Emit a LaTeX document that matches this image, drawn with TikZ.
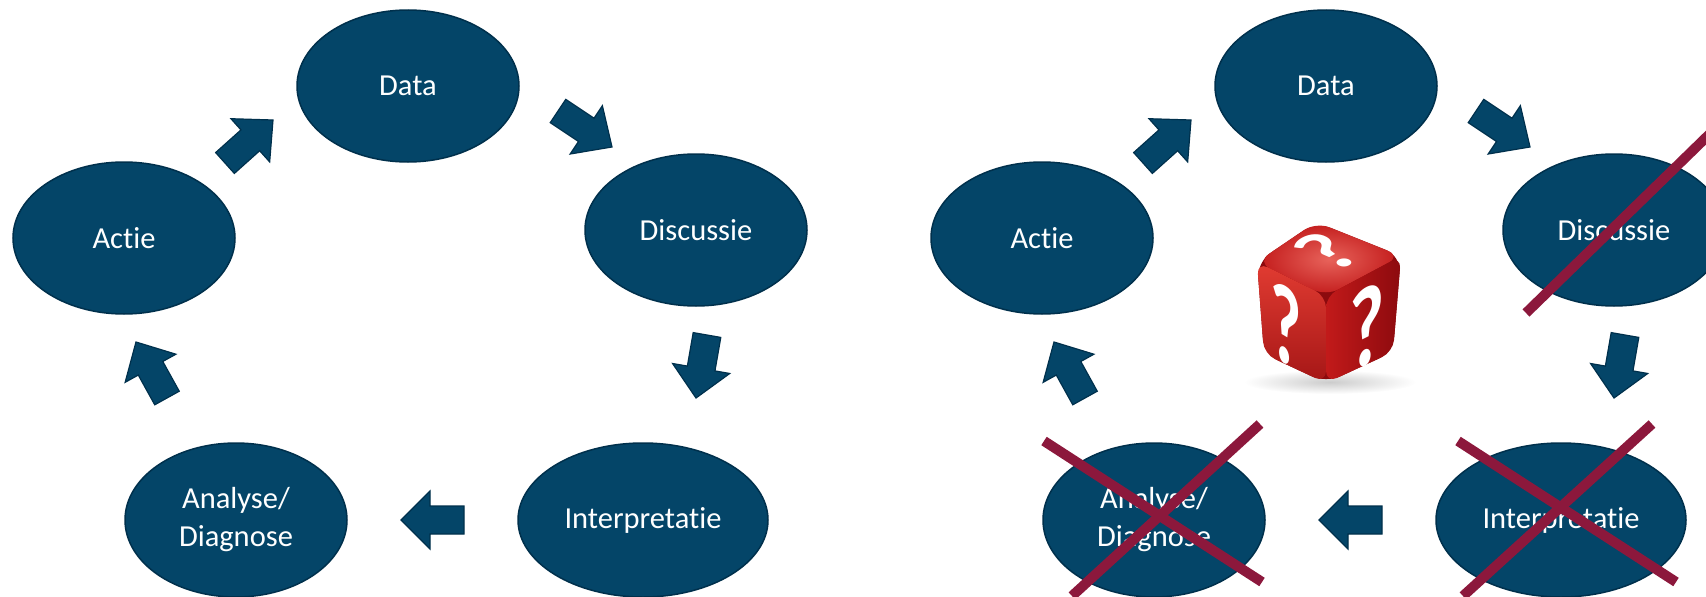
\documentclass[tikz,border=0pt]{standalone}
\usepackage{fontspec}
\setmainfont{Carlito}[Ligatures=NoCommon]
\usetikzlibrary{shapes.geometric,calc}
\definecolor{navy}{RGB}{4,69,104}
\definecolor{navyline}{RGB}{0,48,76}
\definecolor{crossred}{RGB}{140,24,60}
\definecolor{diceA}{RGB}{226,60,50}
\definecolor{diceB}{RGB}{194,26,26}
\definecolor{diceC}{RGB}{140,10,14}
\tikzset{
  bub/.style={ellipse, fill=navy, draw=navyline, line width=1.5pt, inner sep=0pt,
    minimum width=222pt, minimum height=152pt, text=white,
    font=\fontsize{30.5}{38}\selectfont, align=center},
  blockarrow/.style={fill=navy, draw=navyline, line width=1.2pt, line join=miter},
  crossline/.style={draw=crossred, line width=10pt},
  qmark/.style={text=white, inner sep=0pt, transform shape, font=\bfseries\fontsize{112}{112}\selectfont},
}
\newcommand{\blockarr}[2]{%
  \coordinate (ba-m) at ($(#1)!34pt!(#2)$);
  \draw[blockarrow] ($(#1)!14pt!90:(#2)$) -- ($(ba-m)!14pt!90:(#2)$)
    -- ($(ba-m)!29pt!90:(#2)$) -- (#2) -- ($(ba-m)!29pt!-90:(#2)$)
    -- ($(ba-m)!14pt!-90:(#2)$) -- ($(#1)!14pt!-90:(#2)$) -- cycle;}
\newcommand{\drawcycle}[1]{%
  \node[bub] (#1data) at (408,86) {Data};
  \node[bub] (#1actie) at (124,238) {Actie};
  \node[bub] (#1disc) at (696,230) {Discussie};
  \node[bub, minimum width=250pt, minimum height=154pt] (#1interp) at (643,520) {Interpretatie};
  \node[bub, minimum height=154pt] (#1anal) at (236,520) {Analyse/\\Diagnose};
  \coordinate (#1a1t) at (225,163); \coordinate (#1a1h) at (273,120);
  \coordinate (#1a2t) at (558,111); \coordinate (#1a2h) at (612,147);
  \coordinate (#1a3t) at (707,335); \coordinate (#1a3h) at (696,398);
  \coordinate (#1a4t) at (464,520); \coordinate (#1a4h) at (401,520);
  \coordinate (#1a5t) at (167,398); \coordinate (#1a5h) at (136,342);
  \blockarr{#1a1t}{#1a1h}
  \blockarr{#1a2t}{#1a2h}
  \blockarr{#1a3t}{#1a3h}
  \blockarr{#1a4t}{#1a4h}
  \blockarr{#1a5t}{#1a5h}}
\begin{document}
\begin{tikzpicture}[x=1pt,y=-1pt]
\useasboundingbox (0,0) rectangle (1706,597);
\clip (0,0) rectangle (1706,597);
% left cycle
\drawcycle{l}
% right cycle
\begin{scope}[xshift=918pt]
  \drawcycle{r}
\end{scope}
% crosses
\draw[crossline] ($(rdisc)+(-88,83)$) -- ($(rdisc)+(110,-110)$);
\draw[crossline] ($(ranal)+(-110,-79)$) -- ($(ranal)+(108,62)$);
\draw[crossline] ($(ranal)+(106,-96)$) -- ($(ranal)+(-82,76)$);
\draw[crossline] ($(rinterp)+(-103,-79)$) -- ($(rinterp)+(115,62)$);
\draw[crossline] ($(rinterp)+(91,-96)$) -- ($(rinterp)+(-98,76)$);
% dice
\shade[inner color=gray!40, outer color=white] (1330,382) ellipse [x radius=86, y radius=12];
\coordinate (dB) at (1316,222);
\coordinate (dL) at (1257,262);
\coordinate (dR) at (1401,256);
\coordinate (dF) at (1326,296);
\coordinate (dLB) at (1264,354);
\coordinate (dRB) at (1393,352);
\coordinate (dFB) at (1326,383);
\fill[diceC, rounded corners=16pt] (dB) -- (dR) -- (dRB) -- (dFB) -- (dLB) -- (dL) -- cycle;
\shade[rounded corners=14pt, inner color=diceA!80!white, outer color=diceB] (dB) -- (dR) -- (dF) -- (dL) -- cycle;
\shade[rounded corners=12pt, top color=diceA, bottom color=diceB!85!black] (dL) -- (dF) -- (dFB) -- (dLB) -- cycle;
\shade[rounded corners=12pt, left color=diceB, right color=diceC] (dF) -- (dR) -- (dRB) -- (dFB) -- cycle;
\begin{scope}[shift={(1327,252)}, yscale=0.55]
  \node[qmark, rotate=45, scale=0.88] (q1) at (0,0) {?};
\end{scope}
\node[qmark, yslant=-0.6, xscale=0.6] (q2) at (1286,326) {?};
\node[qmark, yslant=0.5, xscale=0.68] (q3) at (1367,326) {?};
\end{tikzpicture}
\end{document}
